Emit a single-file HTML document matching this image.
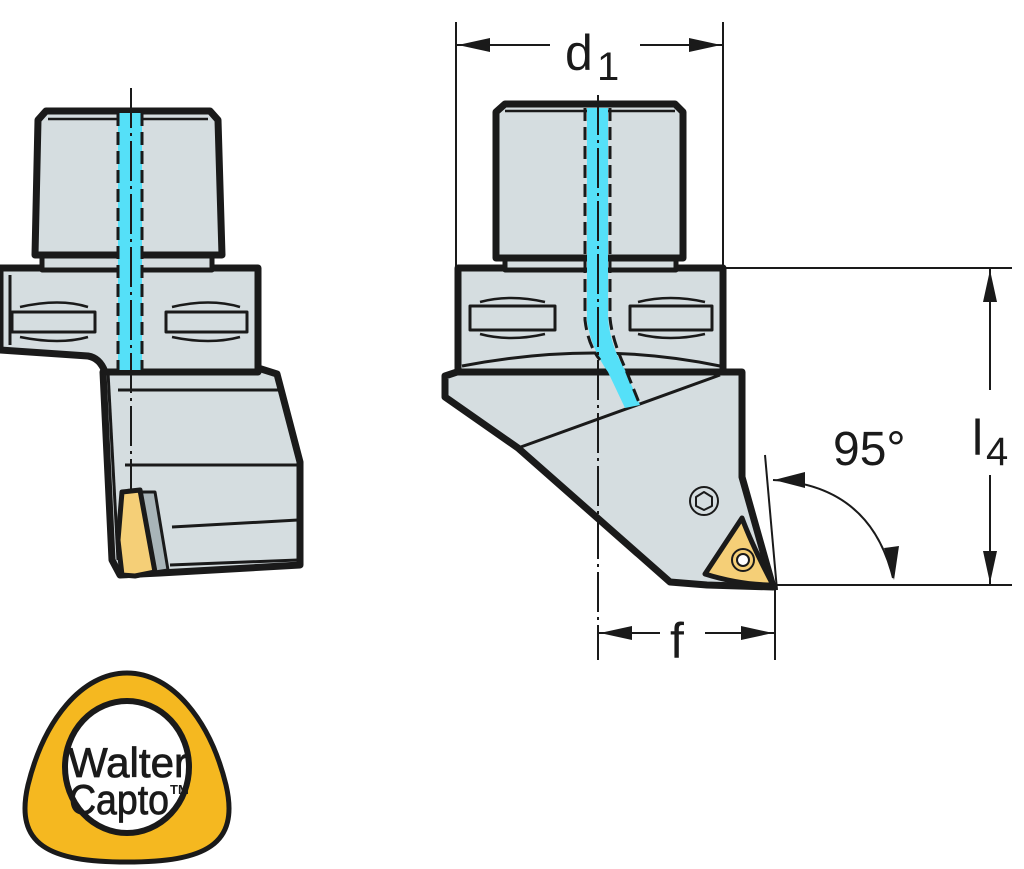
<!DOCTYPE html>
<html><head><meta charset="utf-8"><style>
html,body{margin:0;padding:0;background:#fff;}
svg{display:block;}
text{font-family:"Liberation Sans",sans-serif;}
</style></head><body>
<svg width="1024" height="869" viewBox="0 0 1024 869" xmlns="http://www.w3.org/2000/svg">
<g stroke="#1a1a1a" stroke-linejoin="round">
<!-- LEFT DRAWING -->
<path d="M103,372 L258,368 L277,374 L300,462 L300,565 L160,573 L120,575 L112,560 Z" fill="#d5dde0" stroke-width="7"/>
<path d="M118,390 L278,390 M125,465 L298,465 M172,527 L298,520 M170,565 L298,560" fill="none" stroke-width="3"/>
<path d="M108,372 L118,560" fill="none" stroke-width="3"/>
<path d="M0,268 L258,268 L258,372 L105,372 Q100,358 88,356 L0,350 Z" fill="#d5dde0" stroke-width="7"/>
<path d="M10,275 L10,345" stroke-width="3"/>
<path d="M12,312 L95,312 L95,332 L12,332 Z" fill="#d5dde0" stroke-width="3"/>
<path d="M20,307 Q60,298 88,307 M20,337 Q60,345 88,337" fill="none" stroke-width="2.5"/>
<path d="M166,312 L247,312 L247,332 L166,332 Z" fill="#d5dde0" stroke-width="3"/>
<path d="M172,307 Q210,298 240,307 M172,337 Q210,345 240,337" fill="none" stroke-width="2.5"/>
<path d="M42,256 L212,256 L212,270 L42,270 Z" fill="#d5dde0" stroke-width="5"/>
<path d="M38,120 L46,111 L210,111 L218,120 L222,255 L35,255 Z" fill="#d5dde0" stroke-width="7"/>
<path d="M48,119 L208,119" stroke-width="2.5"/>
<rect x="118" y="113" width="24" height="257" fill="#55e0f8" stroke="none"/>
<path d="M118,113 L118,370 M142,113 L142,370" stroke-width="3" stroke-dasharray="13,6" fill="none"/>
<path d="M131,88 L131,575" stroke-width="2" stroke-dasharray="40,5,3,5" fill="none"/>
<path d="M140,492 L155,492 L168,570 L155,572 Z" fill="#a8b4b8" stroke-width="3"/>
<path d="M122,492 L140,490 L155,572 L135,576 L122,575 L118,540 Z" fill="#f5cf77" stroke-width="5"/>

<!-- RIGHT DRAWING -->
<path d="M445,376 L457,372 L742,372 L742,477 L773,587 L707,585 L670,582 L518,448 L445,397 Z" fill="#d5dde0" stroke-width="7"/>
<path d="M518,448 L720,375" stroke-width="3" fill="none"/>
<path d="M458,268 L723,268 L723,372 L458,372 Z" fill="#d5dde0" stroke-width="7"/>
<path d="M462,366 Q597,340 720,366" stroke-width="3" fill="none"/>
<path d="M470,306 L555,306 L555,330 L470,330 Z" fill="#d5dde0" stroke-width="3"/>
<path d="M480,302 Q510,294 545,302 M480,334 Q510,342 545,334" fill="none" stroke-width="2.5"/>
<path d="M630,306 L712,306 L712,330 L630,330 Z" fill="#d5dde0" stroke-width="3"/>
<path d="M638,302 Q670,294 705,302 M638,334 Q670,342 705,334" fill="none" stroke-width="2.5"/>
<path d="M505,257 L676,257 L676,270 L505,270 Z" fill="#d5dde0" stroke-width="5"/>
<path d="M496,112 L505,104 L675,104 L683,112 L683,258 L496,258 Z" fill="#d5dde0" stroke-width="7"/>
<path d="M505,111 L675,111" stroke-width="2.5"/>
<path d="M587,108 L608,108 L608,318 Q610,345 625,370 L640,405 L625,408 L608,372 Q592,350 587,322 Z" fill="#55e0f8" stroke="none"/>
<path d="M585,108 L585,320 Q588,345 600,360 M610,108 L610,318 Q612,340 626,370 L640,405" fill="none" stroke-width="3" stroke-dasharray="13,6"/>
<path d="M598,95 L598,660" stroke-width="2" stroke-dasharray="40,5,3,5" fill="none"/>
<circle cx="704" cy="501" r="14" fill="#d5dde0" stroke-width="2"/>
<path d="M704,492 L712,497 L712,506 L704,510 L696,506 L696,497 Z" fill="none" stroke-width="2"/>
<path d="M705,574 L742,518 Q752,545 773,585 Q740,585 705,574 Z" fill="#f5cf77" stroke-width="5"/>
<circle cx="743" cy="560" r="11" fill="none" stroke-width="2"/>
<circle cx="743" cy="560" r="6" fill="#fff" stroke-width="2"/>

<g stroke-width="2" fill="none">
<path d="M456,22 L456,268 M723,22 L723,268"/>
<path d="M456,45 L550,45 M640,45 L723,45"/>
<path d="M723,268 L1012,268 M775,585 L1012,585"/>
<path d="M990,268 L990,390 M990,475 L990,585"/>
<path d="M775,585 L775,660"/>
<path d="M598,633 L660,633 M705,633 L775,633"/>
<path d="M765,455 L777,590"/>
<path d="M773,480 Q870,485 893,578"/>
</g>
<g fill="#1a1a1a" stroke="none">
<path d="M458,45 L490,38 L490,52 Z"/>
<path d="M721,45 L689,38 L689,52 Z"/>
<path d="M990,270 L983,302 L997,302 Z"/>
<path d="M990,583 L983,551 L997,551 Z"/>
<path d="M600,633 L632,626 L632,640 Z"/>
<path d="M773,633 L741,626 L741,640 Z"/>
<path d="M774,480 L805,472 L805,488 Z"/>
<path d="M894,580 L884,548 L899,546 Z"/>
</g>
</g>
<text x="565" y="70" font-size="50" fill="#1a1a1a">d</text>
<text x="597" y="80" font-size="40" fill="#1a1a1a">1</text>
<text x="670" y="658" font-size="50" fill="#1a1a1a">f</text>
<text x="833" y="465" font-size="48" fill="#1a1a1a">95°</text>
<text x="972" y="455" font-size="50" fill="#1a1a1a">l</text>
<text x="986" y="465" font-size="40" fill="#1a1a1a">4</text>

<!-- LOGO -->
<path d="M127,673 C172,673 210,720 226,785 C240,845 205,862 127,862 C49,862 14,845 28,785 C44,720 82,673 127,673 Z" fill="#f5b820" stroke="#1a1a1a" stroke-width="5"/>
<ellipse cx="127" cy="767" rx="62" ry="66" fill="#fff" stroke="#1a1a1a" stroke-width="6"/>
<text x="128" y="777" font-size="42" text-anchor="middle" fill="#1a1a1a" stroke="#1a1a1a" stroke-width="0.8" textLength="120" lengthAdjust="spacingAndGlyphs">Walter</text>
<text x="119" y="814" font-size="42" text-anchor="middle" fill="#1a1a1a" stroke="#1a1a1a" stroke-width="0.8" textLength="100" lengthAdjust="spacingAndGlyphs">Capto</text>
<text x="170" y="794" font-size="13" fill="#1a1a1a" font-weight="bold">TM</text>
</svg>
</body></html>
